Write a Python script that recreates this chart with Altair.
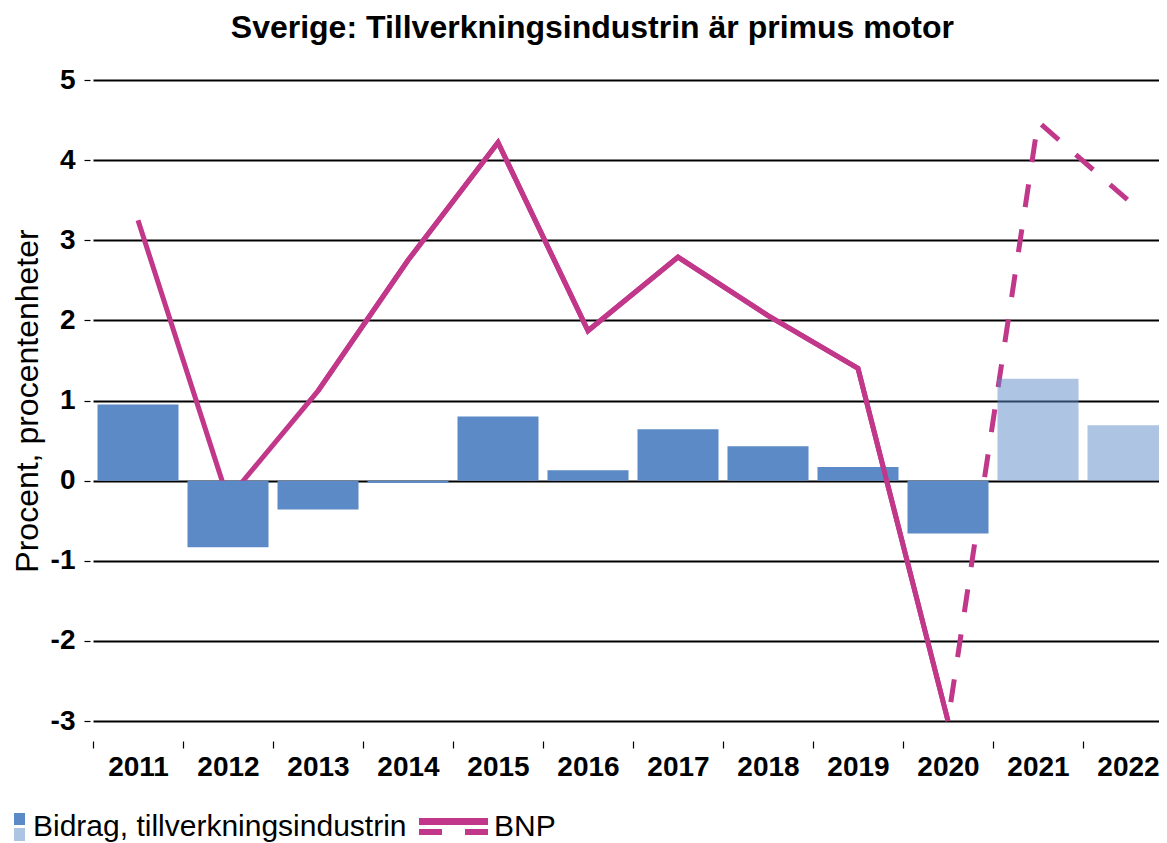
import altair as alt
import pandas as pd

years = ["2011", "2012", "2013", "2014", "2015", "2016", "2017", "2018", "2019", "2020", "2021", "2022"]
bidrag = [0.95, -0.83, -0.36, -0.03, 0.80, 0.13, 0.64, 0.43, 0.17, -0.66, 1.27, 0.69]
status = ["utfall"] * 10 + ["prognos"] * 2
bnp = [3.25, -0.23, 1.12, 2.75, 4.22, 1.87, 2.79, 2.06, 1.40, -3.0, 4.48, 3.50]

title_text = "Sverige: Tillverkningsindustrin är primus motor"
y_title = "Procent, procentenheter"
legend_labels = ["Bidrag, tillverkningsindustrin", "BNP"]
y_ticks = [-3, -2, -1, 0, 1, 2, 3, 4, 5]

BLUE = "#5B8AC6"
PINK = "#C1378A"
FONT = "Liberation Sans"

bars_df = pd.DataFrame({"year": years, "value": bidrag, "status": status})

rows = []
for yr, v in zip(years[:10], bnp[:10]):
    rows.append({"year": yr, "value": v, "seg": "utfall"})
for yr, v in zip(years[9:], bnp[9:]):
    rows.append({"year": yr, "value": v, "seg": "prognos"})
line_df = pd.DataFrame(rows)

xscale = alt.Scale(domain=years, range=[0, 1080], paddingInner=0, paddingOuter=0)
yscale = alt.Scale(domain=[-3, 5], nice=False)

x_enc = alt.X(
    "year:N",
    scale=xscale,
    axis=alt.Axis(
        title=None, labelAngle=0, labelFontSize=28, labelFontWeight="bold",
        labelColor="black", labelFont=FONT, domain=False, ticks=True,
        tickBand="extent", tickSize=7, tickColor="black", tickWidth=1.2,
        offset=20, labelPadding=5, grid=False,
    ),
)
y_enc = alt.Y(
    "value:Q",
    scale=yscale,
    axis=alt.Axis(
        values=y_ticks, labelExpr="'' + datum.value", labelFontSize=28,
        labelFontWeight="bold", labelColor="black", labelFont=FONT,
        domain=False, tickSize=6, tickColor="black", tickWidth=1.2, offset=3,
        labelPadding=9, grid=True, gridColor="black", gridWidth=1.8,
        title=y_title, titleFontSize=32, titleFontWeight="normal",
        titleColor="black", titleFont=FONT, titlePadding=6,
    ),
)

base_line = alt.Chart(line_df)

solid_low = base_line.transform_filter(alt.datum.seg == "utfall").mark_line(
    color=PINK, strokeWidth=5, strokeCap="butt", strokeJoin="miter"
).encode(x=x_enc, y=y_enc)

dashed_low = base_line.transform_filter(alt.datum.seg == "prognos").mark_line(
    color=PINK, strokeWidth=5, strokeCap="butt", strokeJoin="miter",
    strokeDash=[23, 22.5], strokeDashOffset=26.3,
).encode(x=x_enc, y=y_enc)

bars = alt.Chart(bars_df).mark_bar(width=alt.RelativeBandSize(0.9)).encode(
    x=x_enc,
    y=y_enc,
    color=alt.value(BLUE),
    opacity=alt.Opacity("status:N", scale=alt.Scale(domain=["utfall", "prognos"], range=[1, 0.5]), legend=None),
)

solid_top = base_line.transform_filter(
    (alt.datum.seg == "utfall") & (alt.datum.year >= "2013")
).mark_line(color=PINK, strokeWidth=5, strokeCap="butt", strokeJoin="miter").encode(x=x_enc, y=y_enc)

# manual legend
leg_df = pd.DataFrame({"label": [legend_labels[0]]})
leg_df2 = pd.DataFrame({"label": [legend_labels[1]]})

leg_sq_dark = alt.Chart(leg_df).mark_rect(color=BLUE).encode(
    x=alt.value(-79), x2=alt.value(-68), y=alt.value(733), y2=alt.value(745)
)
leg_sq_light = alt.Chart(leg_df).mark_rect(color=BLUE, opacity=0.5).encode(
    x=alt.value(-79), x2=alt.value(-68), y=alt.value(748), y2=alt.value(761)
)
leg_text1 = alt.Chart(leg_df).mark_text(
    align="left", baseline="middle", fontSize=30, font=FONT, color="black"
).encode(x=alt.value(-60), y=alt.value(747), text="label:N")
leg_rule_solid = alt.Chart(leg_df2).mark_rule(color=PINK, strokeWidth=7, strokeCap="butt").encode(
    x=alt.value(326), x2=alt.value(395), y=alt.value(741.5)
)
leg_rule_dash = alt.Chart(leg_df2).mark_rule(
    color=PINK, strokeWidth=6, strokeCap="butt", strokeDash=[23, 23]
).encode(x=alt.value(326), x2=alt.value(395), y=alt.value(752))
leg_text2 = alt.Chart(leg_df2).mark_text(
    align="left", baseline="middle", fontSize=30, font=FONT, color="black"
).encode(x=alt.value(401), y=alt.value(747), text="label:N")

chart = alt.layer(
    solid_low, dashed_low, bars, solid_top,
    leg_sq_dark, leg_sq_light, leg_text1, leg_rule_solid, leg_rule_dash, leg_text2,
).properties(
    width=1066,
    height=641,
    title=alt.TitleParams(
        text=title_text, fontSize=32, font=FONT, fontWeight="bold",
        color="black", anchor="middle", frame="bounds", offset=21,
    ),
    autosize=alt.AutoSizeParams(type="none"),
    padding={"left": 85, "top": 72, "right": 0, "bottom": 122},
).configure(background="white", font=FONT).configure_view(stroke=None, strokeWidth=0)

chart.save("out.html", embed_options={"renderer": "svg", "actions": False})
